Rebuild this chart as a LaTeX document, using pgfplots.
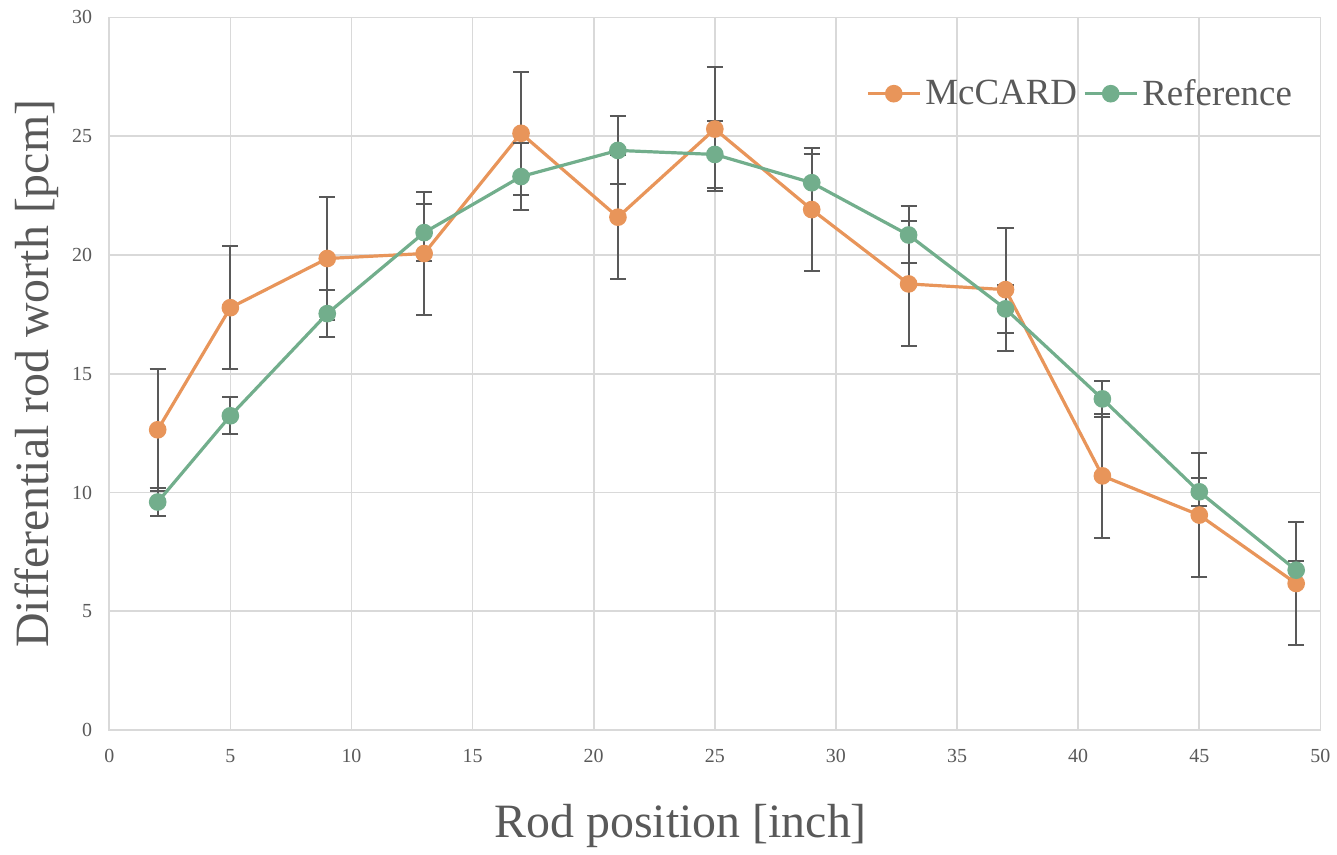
\documentclass[border=0pt]{standalone}
\usepackage{fontspec}
\setmainfont{Liberation Serif}
\usepackage{pgfplots}
\pgfplotsset{compat=1.18}
\definecolor{cMc}{HTML}{E8955A}
\definecolor{cRef}{HTML}{72AE8C}
\definecolor{cTxt}{HTML}{595959}
\definecolor{cGrid}{HTML}{D9D9D9}

\pgfplotstableread{
x y e
2 12.64 2.57
5 17.78 2.6
9 19.85 2.6
13 20.06 2.6
17 25.12 2.6
21 21.59 2.6
25 25.30 2.6
29 21.91 2.6
33 18.78 2.63
37 18.54 2.6
41 10.70 2.6
45 9.05 2.6
49 6.17 2.6
}\mccard

\pgfplotstableread{
x y e
2 9.60 0.6
5 13.23 0.78
9 17.53 1.0
13 20.94 1.2
17 23.30 1.4
21 24.40 1.43
25 24.23 1.42
29 23.04 1.2
33 20.84 1.2
37 17.73 1.0
41 13.94 0.77
45 10.03 0.6
49 6.73 0.4
}\reference

\begin{document}
\begin{tikzpicture}
\begin{axis}[scale only axis, width=605bp, height=356bp,
  xmin=0, xmax=50, ymin=0, ymax=30,
  xtick={0,5,...,50}, ytick={0,5,...,30},
  grid=major, grid style={cGrid, line width=0.8bp},
  axis line style={cGrid, line width=0.8bp},
  tick style={draw=none},
  /pgf/number format/assume math mode=true,
  tick label style={font=\rmfamily\fontsize{10}{12}\selectfont, text=cTxt},
  xticklabel style={yshift=-6bp}, yticklabel style={xshift=-5bp},
  xlabel={Rod position [inch]}, ylabel={Differential rod worth [pcm]},
  label style={font=\rmfamily\fontsize{24}{28}\selectfont, text=cTxt},
  xlabel style={yshift=-14bp, xshift=-17bp}, ylabel style={yshift=0bp},
  legend style={draw=none, fill=none, at={(0.985,0.925)}, anchor=north east,
    font=\rmfamily\fontsize{18.5}{22}\selectfont, text=cTxt, legend columns=2,
    /tikz/every even column/.append style={column sep=1bp}},
  legend image code/.code={\draw[mark repeat=2, mark phase=2]
    plot coordinates {(0bp,0bp) (13bp,0bp) (26bp,0bp)};},
  legend image post style={line width=1.6bp},
  every axis plot/.append style={line width=1.6bp},
  error bars/error bar style={cTxt, line width=1bp},
  error bars/error mark options={rotate=90, mark size=4bp, line width=1bp, cTxt}]
\addplot[cMc, mark=*, mark size=3.6bp, mark options={fill=cMc, draw=cMc},
  error bars/.cd, y dir=both, y explicit]
  table[x=x, y=y, y error=e] {\mccard};
\addlegendentry{McCARD}
\addplot[cRef, mark=*, mark size=3.6bp, mark options={fill=cRef, draw=cRef},
  error bars/.cd, y dir=both, y explicit]
  table[x=x, y=y, y error=e] {\reference};
\addlegendentry{Reference}
\end{axis}
\path (current bounding box.north east) ++(0,2bp);
\path (current bounding box.south west) ++(-4bp,0);
\end{tikzpicture}
\end{document}
